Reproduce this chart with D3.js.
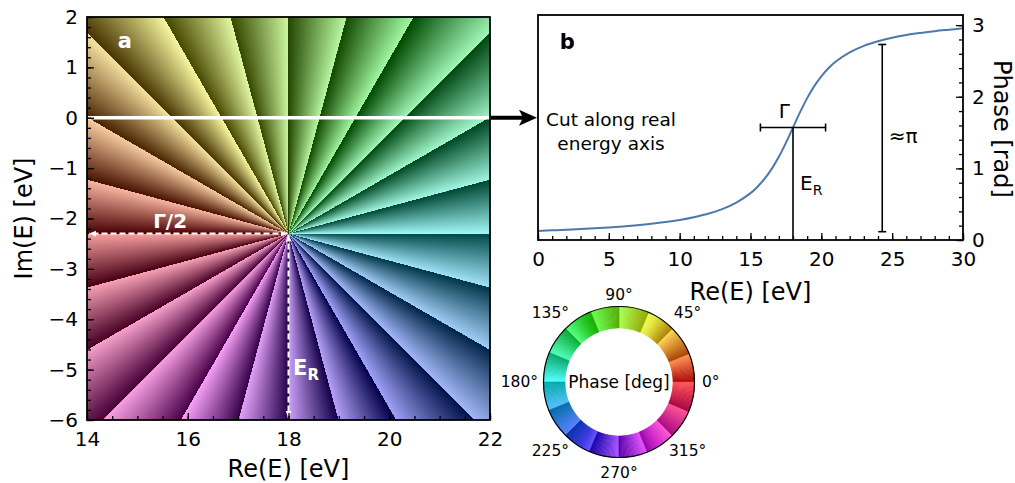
<!DOCTYPE html>
<html>
<head>
<meta charset="UTF-8">
<title>Resonance phase</title>
<style>
  html, body { margin: 0; padding: 0; background: #fff; }
  svg text { font-family: "DejaVu Sans", sans-serif; fill: #000; }
</style>
</head>
<body>
<div id="chart"></div>
<script src="https://cdnjs.cloudflare.com/ajax/libs/d3/7.8.5/d3.min.js"></script>
<script>
// resonance position and half width (eV)
var resEnergy = 18;
var halfWidth = 2.3;

// panel a ticks
var reTicksA = [14, 16, 18, 20, 22];
var imTicksA = [2, 1, 0, -1, -2, -3, -4, -5, -6];

// panel b: phase read along the real axis
var cutEnergy = [0, 1, 2, 3, 4, 5, 6, 7, 8, 9, 10, 11, 12, 13, 14, 15, 15.5, 16, 16.5, 17, 17.5, 18,
                 18.5, 19, 19.5, 20, 20.5, 21, 22, 23, 24, 25, 26, 27, 28, 29, 30];
var cutPhase = [0.127, 0.135, 0.143, 0.152, 0.163, 0.175, 0.189, 0.206, 0.226, 0.250, 0.280, 0.318,
                0.366, 0.431, 0.522, 0.654, 0.744, 0.856, 0.993, 1.161, 1.357, 1.571,
                1.785, 1.981, 2.149, 2.286, 2.398, 2.488, 2.620, 2.711, 2.775, 2.824, 2.862,
                2.891, 2.916, 2.936, 2.955];
var reTicksB = [0, 5, 10, 15, 20, 25, 30];
var phaseTicksB = [0, 1, 2, 3];

// bar drawn as "≈π" (eV and rad)
var piBar = { energy: 24.3, from: 0.116, to: 2.73 };

// color wheel labels (deg)
var wheelLabels = [0, 45, 90, 135, 180, 225, 270, 315];

var W = 1015, H = 483;
var svg = d3.select("#chart").append("svg")
  .attr("width", W).attr("height", H);

var font = "DejaVu Sans, sans-serif";
var tickFont = 20, labelFont = 24;

// ---------- panel a ----------
var xA = d3.scaleLinear().domain([14, 22]).range([87, 490]);
var yA = d3.scaleLinear().domain([-6, 2]).range([420, 17]);

var pw = Math.round(xA.range()[1] - xA.range()[0]);
var ph = Math.round(yA.range()[0] - yA.range()[1]);
var cnv = document.createElement("canvas");
cnv.width = pw; cnv.height = ph;
var ctx = cnv.getContext("2d");
var img = ctx.createImageData(pw, ph);
var sector = Math.PI / 12; // 24 sectors
for (var j = 0; j < ph; j++) {
  for (var i = 0; i < pw; i++) {
    var re = xA.invert(xA.range()[0] + i + 0.5);
    var im = yA.invert(yA.range()[1] + j + 0.5);
    var p = Math.PI - Math.atan2(im + halfWidth, re - resEnergy);
    p = ((p % (2 * Math.PI)) + 2 * Math.PI) % (2 * Math.PI);
    var hue = p * 180 / Math.PI;
    var t = (p / sector) % 1;
    var dark = d3.rgb(d3.hsl(hue, 1, 0.14));
    var light = d3.rgb(d3.hsl(hue, 0.85, 0.8));
    var k = (j * pw + i) * 4;
    img.data[k] = dark.r + (light.r - dark.r) * t;
    img.data[k + 1] = dark.g + (light.g - dark.g) * t;
    img.data[k + 2] = dark.b + (light.b - dark.b) * t;
    img.data[k + 3] = 255;
  }
}
ctx.putImageData(img, 0, 0);

var gA = svg.append("g");
gA.append("image")
  .attr("x", xA.range()[0]).attr("y", yA.range()[1])
  .attr("width", pw).attr("height", ph)
  .attr("href", cnv.toDataURL());

// white cut line at Im(E)=0
gA.append("line")
  .attr("x1", xA(14)).attr("x2", xA(22))
  .attr("y1", yA(0)).attr("y2", yA(0))
  .attr("stroke", "#fff").attr("stroke-width", 3.5);

// white dashed double arrows
var defs = svg.append("defs");
defs.append("marker").attr("id", "wh")
  .attr("markerUnits", "userSpaceOnUse")
  .attr("viewBox", "0 0 10 10").attr("refX", 10).attr("refY", 5)
  .attr("markerWidth", 7).attr("markerHeight", 7)
  .attr("orient", "auto-start-reverse")
  .append("path").attr("d", "M0,1 L10,5 L0,9 Z").attr("fill", "#fff");

gA.append("line")
  .attr("x1", xA(resEnergy) - 1).attr("x2", xA(14) + 2)
  .attr("y1", yA(-halfWidth)).attr("y2", yA(-halfWidth))
  .attr("stroke", "#fff").attr("stroke-width", 2).attr("stroke-dasharray", "6,3")
  .attr("marker-start", "url(#wh)").attr("marker-end", "url(#wh)");
gA.append("line")
  .attr("x1", xA(resEnergy)).attr("x2", xA(resEnergy))
  .attr("y1", yA(-halfWidth) + 1).attr("y2", yA(-6) - 2)
  .attr("stroke", "#fff").attr("stroke-width", 2).attr("stroke-dasharray", "6,3")
  .attr("marker-start", "url(#wh)").attr("marker-end", "url(#wh)");

gA.append("text").attr("x", xA(15.65)).attr("y", yA(-2.19))
  .attr("text-anchor", "middle").attr("font-size", 20).attr("font-weight", "bold")
  .style("fill", "#fff").text("Γ/2");
var erA = gA.append("text").attr("x", xA(18.09)).attr("y", yA(-5.1))
  .attr("font-size", 21).attr("font-weight", "bold").style("fill", "#fff");
erA.append("tspan").text("E");
erA.append("tspan").attr("font-size", 15).attr("dy", 5).text("R");

gA.append("text").attr("x", xA(14.75)).attr("y", yA(1.38))
  .attr("text-anchor", "middle").attr("font-size", 21).attr("font-weight", "bold")
  .style("fill", "#fff").text("a");

function styleAxis(g) {
  g.select(".domain").remove();
  g.selectAll(".tick line").attr("stroke", "#000").attr("stroke-width", 1.3);
  g.selectAll(".tick text").attr("font-size", tickFont).attr("font-family", font).style("fill", "#000");
}

// minor + major ticks, pointing inward
var axA_xm = gA.append("g").attr("transform", "translate(0," + yA.range()[0] + ")")
  .call(d3.axisBottom(xA).tickValues(d3.range(14, 22.01, 0.5)).tickSize(-4).tickFormat(""));
styleAxis(axA_xm);
var axA_x = gA.append("g").attr("transform", "translate(0," + yA.range()[0] + ")")
  .call(d3.axisBottom(xA).tickValues(reTicksA).tickSize(-7).tickPadding(12));
styleAxis(axA_x);
var axA_ym = gA.append("g").attr("transform", "translate(" + xA.range()[0] + ",0)")
  .call(d3.axisLeft(yA).tickValues(d3.range(-6, 2.01, 0.2)).tickSize(-4).tickFormat(""));
styleAxis(axA_ym);
var axA_y = gA.append("g").attr("transform", "translate(" + xA.range()[0] + ",0)")
  .call(d3.axisLeft(yA).tickValues(imTicksA).tickSize(-7).tickPadding(9)
    .tickFormat(function(d) { return d < 0 ? "\u2212" + (-d) : d; }));
styleAxis(axA_y);

gA.append("rect")
  .attr("x", xA.range()[0]).attr("y", yA.range()[1])
  .attr("width", pw).attr("height", ph)
  .attr("fill", "none").attr("stroke", "#000").attr("stroke-width", 1.8);

gA.append("text").attr("x", d3.mean(xA.range())).attr("y", 477)
  .attr("text-anchor", "middle").attr("font-size", labelFont).text("Re(E) [eV]");
gA.append("text")
  .attr("transform", "translate(32," + d3.mean(yA.range()) + ") rotate(-90)")
  .attr("text-anchor", "middle").attr("font-size", labelFont).text("Im(E) [eV]");

// ---------- panel b ----------
var xB = d3.scaleLinear().domain([0, 30]).range([538, 963]);
var yB = d3.scaleLinear().domain([0, Math.PI]).range([240, 15]);
var gB = svg.append("g");

var axB_xm = gB.append("g").attr("transform", "translate(0," + yB.range()[0] + ")")
  .call(d3.axisBottom(xB).tickValues(d3.range(0, 30.01, 1)).tickSize(-4).tickFormat(""));
styleAxis(axB_xm);
var axB_x = gB.append("g").attr("transform", "translate(0," + yB.range()[0] + ")")
  .call(d3.axisBottom(xB).tickValues(reTicksB).tickSize(-7).tickPadding(12));
styleAxis(axB_x);
var axB_ym = gB.append("g").attr("transform", "translate(" + xB.range()[1] + ",0)")
  .call(d3.axisRight(yB).tickValues(d3.range(0, 3.01, 0.2)).tickSize(-4).tickFormat(""));
styleAxis(axB_ym);
var axB_y = gB.append("g").attr("transform", "translate(" + xB.range()[1] + ",0)")
  .call(d3.axisRight(yB).tickValues(phaseTicksB).tickSize(-7).tickPadding(9).tickFormat(d3.format("d")));
styleAxis(axB_y);

var line = d3.line()
  .x(function(d, i) { return xB(cutEnergy[i]); })
  .y(function(d) { return yB(d); })
  .curve(d3.curveCatmullRom.alpha(0.5));
gB.append("path").datum(cutPhase)
  .attr("d", line).attr("fill", "none")
  .attr("stroke", "#4c78ad").attr("stroke-width", 2);

// Gamma bar and E_R line
var yHalf = yB(Math.PI / 2);
gB.append("line").attr("x1", xB(resEnergy - halfWidth)).attr("x2", xB(resEnergy + halfWidth))
  .attr("y1", yHalf).attr("y2", yHalf).attr("stroke", "#000").attr("stroke-width", 1.6);
[resEnergy - halfWidth, resEnergy + halfWidth].forEach(function(e) {
  gB.append("line").attr("x1", xB(e)).attr("x2", xB(e))
    .attr("y1", yHalf - 4).attr("y2", yHalf + 4).attr("stroke", "#000").attr("stroke-width", 1.6);
});
gB.append("line").attr("x1", xB(resEnergy)).attr("x2", xB(resEnergy))
  .attr("y1", yHalf).attr("y2", yB(0)).attr("stroke", "#000").attr("stroke-width", 1.6);
gB.append("text").attr("x", xB(17.38)).attr("y", yB(1.70))
  .attr("text-anchor", "middle").attr("font-size", 20).text("Γ");
var erB = gB.append("text").attr("x", xB(18.5)).attr("y", yB(0.7)).attr("font-size", 20);
erB.append("tspan").text("E");
erB.append("tspan").attr("font-size", 14).attr("dy", 5).text("R");

// ≈π bar
gB.append("line").attr("x1", xB(piBar.energy)).attr("x2", xB(piBar.energy))
  .attr("y1", yB(piBar.from)).attr("y2", yB(piBar.to)).attr("stroke", "#000").attr("stroke-width", 1.6);
[piBar.from, piBar.to].forEach(function(v) {
  gB.append("line").attr("x1", xB(piBar.energy) - 4).attr("x2", xB(piBar.energy) + 4)
    .attr("y1", yB(v)).attr("y2", yB(v)).attr("stroke", "#000").attr("stroke-width", 1.6);
});
gB.append("text").attr("x", xB(25.78)).attr("y", yB(1.354))
  .attr("text-anchor", "middle").attr("font-size", 20).text("≈π");

gB.append("text").attr("x", xB(2.07)).attr("y", yB(2.667))
  .attr("text-anchor", "middle").attr("font-size", 21).attr("font-weight", "bold").text("b");

gB.append("text").attr("x", 611).attr("y", 126)
  .attr("text-anchor", "middle").attr("font-size", 18.5).text("Cut along real");
gB.append("text").attr("x", 611).attr("y", 150)
  .attr("text-anchor", "middle").attr("font-size", 18.5).text("energy axis");

gB.append("rect")
  .attr("x", xB.range()[0]).attr("y", yB.range()[1])
  .attr("width", xB.range()[1] - xB.range()[0]).attr("height", yB.range()[0] - yB.range()[1])
  .attr("fill", "none").attr("stroke", "#000").attr("stroke-width", 1.8);

gB.append("text").attr("x", d3.mean(xB.range())).attr("y", 300)
  .attr("text-anchor", "middle").attr("font-size", labelFont).text("Re(E) [eV]");
gB.append("text")
  .attr("transform", "translate(994," + (yB(1.55)) + ") rotate(90)")
  .attr("text-anchor", "middle").attr("font-size", labelFont).text("Phase [rad]");

// black arrow a -> b
var ay = yA(0);
var ax0 = xA.range()[1] + 1, ax1 = xB.range()[0] - 1;
svg.append("line").attr("x1", ax0).attr("x2", ax1 - 12)
  .attr("y1", ay).attr("y2", ay).attr("stroke", "#000").attr("stroke-width", 4);
svg.append("path")
  .attr("d", "M" + ax1 + "," + ay + " L" + (ax1 - 18) + "," + (ay - 8) +
    " L" + (ax1 - 14) + "," + ay + " L" + (ax1 - 18) + "," + (ay + 8) + " Z")
  .attr("fill", "#000");

// ---------- color wheel ----------
var wc = { x: 619, y: 382 };
var rIn = 54, rOut = 75.5;
var gW = svg.append("g").attr("transform", "translate(" + wc.x + "," + wc.y + ")");
var arc = d3.arc().innerRadius(rIn).outerRadius(rOut);
var wheelSteps = d3.range(0, 360, 1);
function wheelColor(d) {
  var h = d + 0.5;
  var t = (h / 22.5) % 1;
  return d3.interpolateRgb(d3.hsl(h, 1, 0.33), d3.hsl(h, 1, 0.66))(t);
}
gW.selectAll("path.slice").data(wheelSteps).enter().append("path")
  .attr("class", "slice")
  .attr("d", function(d) {
    var a0 = Math.PI / 2 - (d + 1) * Math.PI / 180;
    var a1 = Math.PI / 2 - d * Math.PI / 180;
    return arc({ startAngle: a0, endAngle: a1 });
  })
  .attr("fill", wheelColor)
  .attr("stroke", wheelColor).attr("stroke-width", 0.6);
gW.append("circle").attr("r", rOut).attr("fill", "none").attr("stroke", "#000").attr("stroke-width", 1.2);
gW.append("text").attr("y", 6).attr("text-anchor", "middle").attr("font-size", 17).text("Phase [deg]");

// label offsets around the wheel
function labelPos(d) {
  if (d === 0) return [83, 5, "start"];
  if (d === 180) return [-81, 5, "end"];
  if (d === 90) return [0, -82, "middle"];
  if (d === 270) return [0, 96, "middle"];
  var a = d * Math.PI / 180;
  return [Math.cos(a) * 97, -Math.sin(a) * 97 + 5, "middle"];
}
gW.selectAll("text.lab").data(wheelLabels).enter().append("text")
  .attr("class", "lab")
  .attr("x", function(d) { return labelPos(d)[0]; })
  .attr("y", function(d) { return labelPos(d)[1]; })
  .attr("text-anchor", function(d) { return labelPos(d)[2]; })
  .attr("font-size", 15.5)
  .text(function(d) { return d + "°"; });
</script>
</body>
</html>
